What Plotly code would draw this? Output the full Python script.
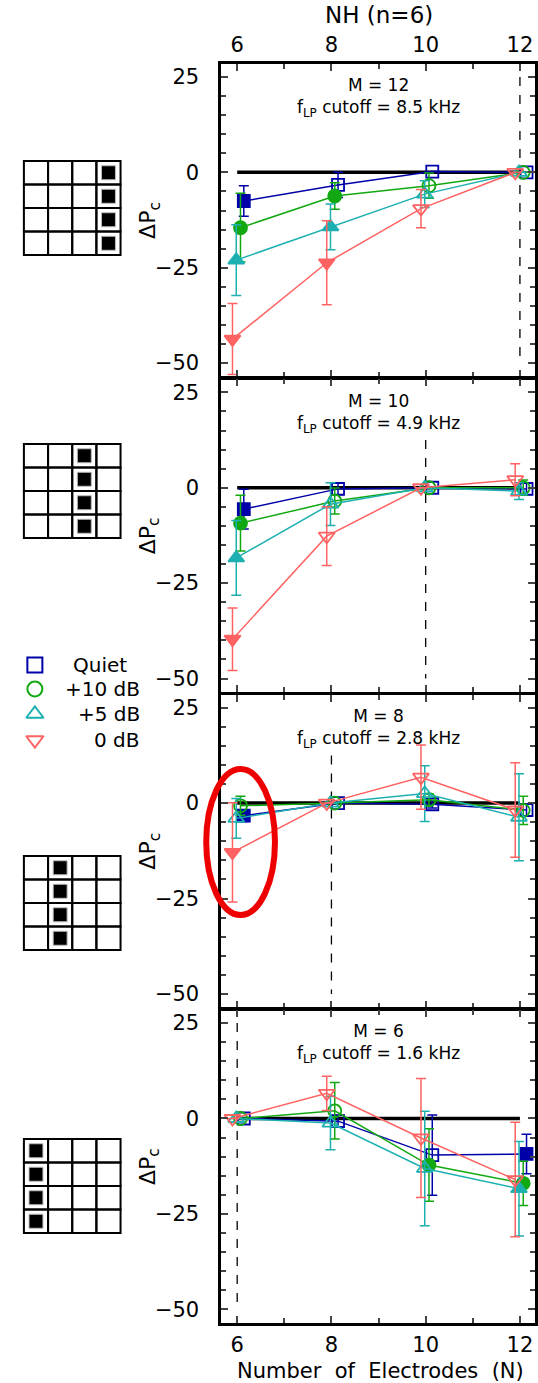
import plotly.graph_objects as go

# ---------------- data ----------------
electrodes = [6, 8, 10, 12]
series_names = ["Quiet", "+10 dB", "+5 dB", "0 dB"]
m_values = [12, 10, 8, 6]
cutoff_khz = ["8.5", "4.9", "2.8", "1.6"]

# rows: Quiet, +10 dB, +5 dB, 0 dB ; columns: N = 6, 8, 10, 12
dp_m12 = [[-7.5, -3.3, 0.2, 0.0],
          [-14.5, -6.2, -3.5, 0.0],
          [-23.0, -14.3, -5.7, 0.0],
          [-43.7, -23.7, -9.5, 0.0]]
err_m12 = [[4.0, 3.3, 0, 0],
           [9.0, 3.5, 3.3, 0],
           [9.3, 6.0, 3.5, 0],
           [9.3, 11.0, 5.0, 0]]
filled_m12 = [[1, 0, 0, 0], [1, 1, 0, 0], [1, 1, 0, 0], [1, 1, 0, 0]]

dp_m10 = [[-5.6, -0.3, 0.0, -0.3],
          [-9.3, -3.5, 0.0, 0.0],
          [-18.4, -4.3, 0.0, -0.9],
          [-39.7, -12.7, 0.0, 2.1]]
err_m10 = [[5.2, 1.5, 0, 1.5],
           [7.3, 3.4, 0, 2.0],
           [9.8, 5.6, 0, 2.2],
           [8.2, 7.7, 0, 4.2]]
filled_m10 = [[1, 0, 0, 0], [1, 0, 0, 0], [1, 0, 0, 0], [1, 0, 0, 0]]

dp_m8 = [[-3.3, 0.0, -0.3, -1.8],
         [-0.7, 0.0, 0.9, -1.9],
         [-4.0, 0.0, 2.5, -3.7],
         [-12.9, 0.0, 6.8, -1.8]]
err_m8 = [[1.5, 0, 1.0, 1.5],
          [2.5, 0, 1.5, 3.7],
          [5.2, 0, 7.3, 11.4],
          [13.0, 0, 8.4, 12.4]]
filled_m8 = [[1, 0, 0, 0], [0, 0, 0, 0], [0, 0, 0, 0], [1, 0, 0, 0]]

dp_m6 = [[0.0, -0.7, -9.6, -9.3],
         [0.0, 2.0, -12.2, -17.0],
         [0.0, -1.2, -13.1, -18.4],
         [0.0, 6.6, -5.1, -16.0]]
err_m6 = [[0, 1.5, 10.5, 5.2],
          [0, 7.4, 9.5, 5.8],
          [0, 7.0, 15.0, 12.4],
          [0, 4.5, 15.6, 15.0]]
filled_m6 = [[0, 0, 0, 1], [0, 0, 1, 1], [0, 0, 0, 1], [0, 0, 0, 0]]

y_ticks = [-50, -25, 0, 25]
x_ticks = [6, 8, 10, 12]

# ---------------- style ----------------
W, H = 538, 1383
TOP, BOT = 64, 60
PLOT_H = H - TOP - BOT
X_LEFT, X_RIGHT = 222, 537
LW = 2.5
GAP = LW / PLOT_H
FONT = "DejaVu Sans"
COLORS = ["#0000A8", "#12A812", "#1EB0B0", "#FF6262"]
SYMBOLS = ["square", "circle", "triangle-up", "triangle-down"]
SIZES = [12, 13, 14, 14]
OFFSETS = [0.14, 0.07, -0.02, -0.1]
XRANGE = [5.66, 12.32]
YRANGE = [-53.6, 28.4]

panels = [
    (dp_m12, err_m12, filled_m12, 25),
    (dp_m10, err_m10, filled_m10, 12.5),
    (dp_m8, err_m8, filled_m8, 12.5),
    (dp_m6, err_m6, filled_m6, 25),
]


def pxx(x):
    return x / W


def pxy(y):
    return (H - BOT - y) / PLOT_H


def clamp(v):
    return min(1.0, max(0.0, round(v, 6)))


fig = go.Figure()
shapes = []
annotations = []
layout = {}

panel_h = (1 - 3 * GAP) / 4

for i, (dp, err, filled, dash_top) in enumerate(panels):
    sfx = "" if i == 0 else str(i + 1)
    xa, ya = "x" + sfx, "y" + sfx
    hi = clamp(1 - i * (panel_h + GAP))
    lo = clamp(hi - panel_h) if i < 3 else 0.0

    # zero reference line and dashed M marker
    shapes.append(dict(type="line", xref=xa, yref=ya, x0=6, x1=12, y0=0, y1=0,
                       line=dict(color="black", width=3.5), layer="below"))
    shapes.append(dict(type="line", xref=xa, yref=ya, x0=m_values[i], x1=m_values[i],
                       y0=dash_top, y1=-50, line=dict(color="black", width=1.3, dash="dash"),
                       layer="below"))

    for s in range(4):
        xs = [e + OFFSETS[s] for e in electrodes]
        syms = [SYMBOLS[s] if f else SYMBOLS[s] + "-open" for f in filled[s]]
        fig.add_trace(go.Scatter(
            x=xs, y=dp[s], xaxis=xa, yaxis=ya, mode="lines+markers",
            name=series_names[s], showlegend=False,
            line=dict(color=COLORS[s], width=1.5),
            marker=dict(symbol=syms, size=SIZES[s], color=COLORS[s],
                        line=dict(color=COLORS[s], width=1.8)),
            error_y=dict(type="data", array=err[s], color=COLORS[s], thickness=1.5, width=5),
        ))

    layout["xaxis" + sfx] = dict(
        domain=[pxx(X_LEFT), pxx(X_RIGHT)], range=XRANGE, anchor=ya,
        tickmode="array", tickvals=x_ticks, ticks="inside", ticklen=7, tickwidth=2,
        minor=dict(tick0=6, dtick=1, ticks="inside", ticklen=5, tickwidth=2, showgrid=False),
        showline=True, linewidth=LW, linecolor="black", mirror="ticks",
        showgrid=False, zeroline=False, showticklabels=(i in (0, 3)),
        side="top" if i == 0 else "bottom",
        tickfont=dict(family=FONT, size=21, color="black"),
        ticklabelstandoff=1 if i == 0 else 1,
    )
    layout["yaxis" + sfx] = dict(
        domain=[lo, hi], range=YRANGE, anchor=xa,
        tickmode="array", tickvals=y_ticks, ticks="inside", ticklen=7, tickwidth=2,
        minor=dict(tick0=0, dtick=5, ticks="inside", ticklen=5, tickwidth=2, showgrid=False),
        showline=True, linewidth=LW, linecolor="black", mirror="ticks",
        showgrid=False, zeroline=False,
        tickfont=dict(family=FONT, size=21, color="black"), ticklabelstandoff=15,
    )

    annotations.append(dict(
        xref=xa, yref=ya, x=9, y=26, xanchor="center", yanchor="top", showarrow=False,
        text=f"M = {m_values[i]}<br>f<sub>LP</sub> cutoff = {cutoff_khz[i]} kHz",
        font=dict(family=FONT, size=17, color="black"),
    ))
    annotations.append(dict(
        xref="paper", yref="paper", x=pxx(150), y=(lo + hi) / 2, xanchor="center",
        yanchor="middle", showarrow=False, textangle=-90, text="ΔP<sub>c</sub>",
        font=dict(family=FONT, size=22, color="black"),
    ))

# overlay axis in pixel units for decorations (legend, electrode icons)
layout["xaxis5"] = dict(domain=[0, 1], range=[0, W], visible=False, anchor="y5")
layout["yaxis5"] = dict(domain=[0, 1], range=[H - BOT, TOP], visible=False, anchor="x5")

legend_y = [665, 689, 714, 740]
fig.add_trace(go.Scatter(
    x=[35] * 4, y=legend_y, xaxis="x5", yaxis="y5", mode="markers", showlegend=False,
    hoverinfo="skip",
    marker=dict(symbol=[s + "-open" for s in SYMBOLS], size=15, color=COLORS,
                line=dict(color=COLORS, width=2)),
))
legend_right = [129, 143, 143, 143]
for k in range(4):
    annotations.append(dict(
        xref="paper", yref="paper", x=pxx(legend_right[k]), y=pxy(legend_y[k]),
        xanchor="right", yanchor="middle", showarrow=False, text=series_names[k],
        font=dict(family=FONT, size=20, color="black"),
    ))

# electrode-grid icons
icon_tops = [161, 444, 856, 1139]
icon_cols = [3, 2, 1, 0]
cw, ch = 24.25, 23.5
for top, col in zip(icon_tops, icon_cols):
    for r in range(4):
        for c in range(4):
            x0 = 24 + c * cw
            y0 = top + r * ch
            shapes.append(dict(type="rect", xref="x5", yref="y5", x0=x0, x1=x0 + cw,
                               y0=y0, y1=y0 + ch, line=dict(color="black", width=2)))
        xc = 24 + col * cw + cw / 2
        yc = top + r * ch + ch / 2
        shapes.append(dict(type="rect", xref="x5", yref="y5", x0=xc - 7, x1=xc + 7,
                           y0=yc - 7, y1=yc + 7, fillcolor="black",
                           line=dict(color="#bbbbbb", width=1)))

# red highlight ellipse
shapes.append(dict(type="circle", xref="x5", yref="y5", x0=207, x1=276, y0=769, y1=915,
                   line=dict(color="#EE0000", width=6), layer="above"))

annotations.append(dict(xref="paper", yref="paper", x=pxx(380), y=pxy(15),
                        xanchor="center", yanchor="middle", showarrow=False,
                        text="NH (n=6)", font=dict(family=FONT, size=23, color="black")))
annotations.append(dict(xref="paper", yref="paper", x=pxx(382), y=pxy(1371),
                        xanchor="center", yanchor="middle", showarrow=False,
                        text="Number\u00a0 of\u00a0 Electrodes\u00a0 (N)",
                        font=dict(family=FONT, size=21, color="black")))

fig.update_layout(
    width=W, height=H, margin=dict(l=0, r=0, t=TOP, b=BOT),
    paper_bgcolor="white", plot_bgcolor="rgba(0,0,0,0)",
    font=dict(family=FONT, color="black"),
    shapes=shapes, annotations=annotations, showlegend=False, **layout,
)

fig.write_html("out.html", config={"displayModeBar": False},
               post_script="document.body.style.margin='0px';")
